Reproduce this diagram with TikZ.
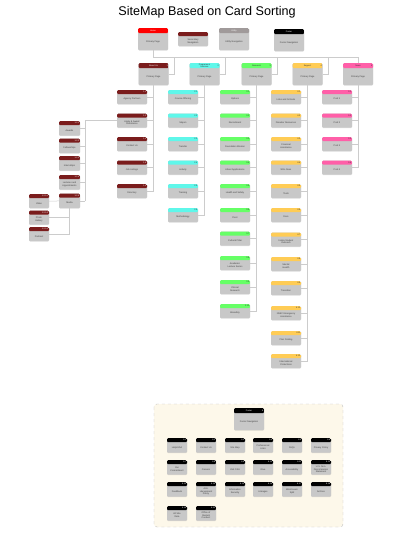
\documentclass[tikz,border=0pt]{standalone}
\usepackage{fontspec}
\setmainfont{Liberation Sans}
\usetikzlibrary{shadows,calc}
\definecolor{cardgray}{HTML}{C8C8C8}
\definecolor{linkgray}{HTML}{CCCCCC}
\definecolor{homec}{HTML}{FF0000}\colorlet{homecT}{white}
\definecolor{aboutc}{HTML}{7A1C1C}\colorlet{aboutcT}{white}
\definecolor{progc}{HTML}{5FF7EA}\colorlet{progcT}{black!80}
\definecolor{resc}{HTML}{66FF66}\colorlet{rescT}{black!80}
\definecolor{supc}{HTML}{FFCC55}\colorlet{supcT}{black!80}
\definecolor{newsc}{HTML}{FF5FA8}\colorlet{newscT}{black!80}
\definecolor{utilc}{HTML}{A09A9A}\colorlet{utilcT}{white}
\definecolor{footc}{HTML}{000000}\colorlet{footcT}{white}
\definecolor{cream}{HTML}{FDF8EA}
\tikzset{
  card/.style={rounded corners=1.2pt, fill=cardgray, inner sep=0pt, anchor=north,
    drop shadow={shadow xshift=0.2pt, shadow yshift=-0.5pt, opacity=0.25}},
  link/.style={draw=linkgray, line width=0.5pt},
  bodytxt/.style={font=\fontsize{2.3}{2.7}\selectfont, text=black!75, align=center, inner sep=0pt},
  hdrtxt/.style={font=\fontsize{2.1}{2.4}\selectfont, inner sep=0pt, align=center},
}
\def\hh{4pt}
% name, x, top y, width, height, header colour, header text, number, body text
\newcommand\card[9]{%
  \node[card, minimum width=#4pt, minimum height=#5pt,
    path picture={\fill[#6] (path picture bounding box.north west) rectangle ([yshift=-\hh]path picture bounding box.north east);}]
    (#1) at (#2,#3) {};
  \node[hdrtxt, text=#6T] at ([yshift=-0.5*\hh]#1.north) {#7};
  \node[hdrtxt, text=#6T, anchor=east] at ([xshift=-0.8pt,yshift=-0.5*\hh]#1.north east) {#8};
  \node[bodytxt] at ([yshift=-0.5*\hh]#1.center) {#9};
}
\begin{document}
\begin{tikzpicture}[x=1pt,y=-1pt]
\useasboundingbox (0,0) rectangle (414,554);
\node[font=\fontsize{12.6}{14}\selectfont] (title) at (207,12) {SiteMap Based on Card Sorting};

% footer container
\draw[dashed, draw=black!25, fill=cream, rounded corners=3pt, line width=0.4pt] (154,404) rectangle (343,527);

% connectors (drawn first, below the cards)
\coordinate (busy) at (0,57);

% top row
\def\hh{5pt}
\card{home}{153}{28}{30}{22}{homec}{Home}{}{Primary Page}
\card{utility}{234}{28}{30}{22}{utilc}{Utility}{}{Utility Navigation}
\card{footer}{289}{29}{30}{22}{footc}{Footer}{}{Footer Navigation}
\def\hh{4pt}
\card{second}{193}{32}{30}{14}{aboutc}{}{}{Secondary\\Navigation}

% level 2
\def\hh{5pt}
\card{about}{153.5}{63}{30}{22}{aboutc}{About Us}{1}{Primary Page}
\card{prog}{204.5}{63}{30}{22}{progc}{Programs \&\\Services}{2}{Primary Page}
\card{res}{256.5}{63}{30}{22}{resc}{Research}{3}{Primary Page}
\card{sup}{307.5}{63}{30}{22}{supc}{Support}{4}{Primary Page}
\card{news}{358}{63}{30}{22}{newsc}{News}{5}{Primary Page}
\def\hh{4pt}

% about children
\card{a1}{132}{90}{30}{14}{aboutc}{}{1.1}{Agency Partners}
\card{a2}{132}{113.5}{30}{14}{aboutc}{}{1.2}{Apply \& Award\\Assistance}
\card{a3}{132}{137}{30}{14}{aboutc}{}{1.3}{Contact Us}
\card{a4}{132}{160.5}{30}{14}{aboutc}{}{1.4}{Job Listings}
\card{a5}{132}{184}{30}{14}{aboutc}{}{1.5}{Directory}

% 1.2 children
\card{l1}{69.5}{121}{21}{14.5}{aboutc}{}{1.2.1}{Awards}
\card{l2}{69.5}{138.5}{21}{14.5}{aboutc}{}{1.2.2}{Fellowships}
\card{l3}{69.5}{156}{21}{14.5}{aboutc}{}{1.2.3}{Internships}
\card{l4}{69.5}{175}{21}{14.5}{aboutc}{}{1.2.4}{Lectures and\\Appointments}
\card{l5}{69.5}{193.5}{21}{14.5}{aboutc}{}{1.2.5}{Media}

% media children
\card{m1}{39}{194}{20}{14}{aboutc}{}{1.2.5.1}{Video}
\card{m2}{39}{210.5}{20}{14}{aboutc}{}{1.2.5.2}{Photo\\Gallery}
\card{m3}{39}{227}{20}{14}{aboutc}{}{1.2.5.3}{Podcast}

% program children
\card{p1}{183}{90}{30}{14}{progc}{}{2.1}{Course Offering}
\card{p2}{183}{113.5}{30}{14}{progc}{}{2.2}{Majors}
\card{p3}{183}{137}{30}{14}{progc}{}{2.3}{Transfer}
\card{p4}{183}{160.5}{30}{14}{progc}{}{2.4}{Activity}
\card{p5}{183}{184}{30}{14}{progc}{}{2.5}{Training}
\card{p6}{183}{208}{30}{14}{progc}{}{2.6}{Methodology}

% research children
\card{r1}{235}{90}{30}{14}{resc}{}{3.1}{Options}
\card{r2}{235}{113.5}{30}{14}{resc}{}{3.2}{Recruitment}
\card{r3}{235}{137}{30}{14}{resc}{}{3.3}{Foundation Mission}
\card{r4}{235}{160.5}{30}{14}{resc}{}{3.4}{About Applications}
\card{r5}{235}{184}{30}{14}{resc}{}{3.5}{Health and Safety}
\card{r6}{235}{208}{30}{14}{resc}{}{3.6}{Pivot}
\card{r7}{235}{231.5}{30}{14}{resc}{}{3.7}{Cultural Pillar}
\card{r8}{235}{256}{30}{14}{resc}{}{3.8}{Academic\\Lecture Series}
\card{r9}{235}{280}{30}{14}{resc}{}{3.9}{Clinical\\Research}
\card{r10}{235}{304}{30}{14}{resc}{}{3.10}{Biosafety}

% support children
\card{s1}{286}{90}{30}{14}{supc}{}{4.1}{Links and Schools}
\card{s2}{286}{113.5}{30}{14}{supc}{}{4.2}{Disaster Resources}
\card{s3}{286}{137}{30}{14}{supc}{}{4.3}{Financial\\Assistance}
\card{s4}{286}{160.5}{30}{14}{supc}{}{4.4}{Who Does}
\card{s5}{286}{184}{30}{14}{supc}{}{4.5}{Tools}
\card{s6}{286}{208}{30}{14}{supc}{}{4.6}{Docs}
\card{s7}{286}{232.5}{30}{14}{supc}{}{4.7}{Inside Student\\Outreach}
\card{s8}{286}{257}{30}{14}{supc}{}{4.8}{Mental\\Health}
\card{s9}{286}{281}{30}{14}{supc}{}{4.9}{Transition}
\card{s10}{286}{306}{30}{14}{supc}{}{4.10}{NSEF Emergency\\Assistance}
\card{s11}{286}{331}{30}{14}{supc}{}{4.11}{Plan Finding}
\card{s12}{286}{354}{30}{14}{supc}{}{4.12}{International\\Protections}

% news children
\card{n1}{337}{90}{30}{14}{newsc}{}{5.1}{Post 1}
\card{n2}{337}{113.5}{30}{14}{newsc}{}{5.2}{Post 2}
\card{n3}{337}{137}{30}{14}{newsc}{}{5.3}{Post 3}
\card{n4}{337}{160.5}{30}{14}{newsc}{}{5.4}{Post 4}

% footer section
\def\hh{5pt}
\card{foot}{249}{408}{30}{22}{footc}{Footer}{6}{Footer Navigation}
\def\hh{4pt}
\card{f1}{177}{438}{20}{14.5}{footc}{}{6.1}{Help/ADA}
\card{f2}{206}{438}{20}{14.5}{footc}{}{6.2}{Contact Us}
\card{f3}{235}{438}{20}{14.5}{footc}{}{6.3}{Site Map}
\card{f4}{263}{438}{20}{14.5}{footc}{}{6.4}{Professional\\Links}
\card{f5}{292}{438}{20}{14.5}{footc}{}{6.5}{FAQs}
\card{f6}{321}{438}{20}{14.5}{footc}{}{6.6}{Privacy Policy}
\card{f7}{177}{460}{20}{14.5}{footc}{}{6.7}{Our\\Commitment}
\card{f8}{206}{460}{20}{14.5}{footc}{}{6.8}{Careers}
\card{f9}{235}{460}{20}{14.5}{footc}{}{6.9}{Visit OSU}
\card{f10}{263}{460}{20}{14.5}{footc}{}{6.10}{Give}
\card{f11}{292}{460}{20}{14.5}{footc}{}{6.11}{Accessibility}
\card{f12}{321}{460}{20}{14.5}{footc}{}{6.12}{U.S. Non-\\Discrimination\\Statement}
\card{f13}{177}{482}{20}{14.5}{footc}{}{6.13}{Feedback}
\card{f14}{206}{482}{20}{14.5}{footc}{}{6.14}{Anti-\\Harassment\\Policy}
\card{f15}{235}{482}{20}{14.5}{footc}{}{6.15}{Information\\Security}
\card{f16}{263}{482}{20}{14.5}{footc}{}{6.16}{Linkages}
\card{f17}{292}{482}{20}{14.5}{footc}{}{6.17}{Work/Learn\\Split}
\card{f18}{321}{482}{20}{14.5}{footc}{}{6.18}{Archive}
\card{f19}{177}{506}{20}{14.5}{footc}{}{6.19}{All Site\\Data}
\card{f20}{206}{506}{20}{14.5}{footc}{}{6.20}{Office of\\Student\\Conduct}

% connectors
\draw[link] (home.south) -- (home.south |- busy) -| (news.north);
\foreach \n in {about,prog,res,sup}{
  \draw[link] (\n.east) -- ([xshift=6pt]\n.east) -- ([xshift=6pt]\n.east |- busy);
}
\foreach \c in {a1,a2,a3,a4,a5}{\draw[link] (about.south) |- (\c.east);}
\foreach \c in {p1,p2,p3,p4,p5,p6}{\draw[link] (prog.south) |- (\c.east);}
\foreach \c in {r1,r2,r3,r4,r5,r6,r7,r8,r9,r10}{\draw[link] (res.south) |- (\c.east);}
\foreach \c in {s1,s2,s3,s4,s5,s6,s7,s8,s9,s10,s11,s12}{\draw[link] (sup.south) |- (\c.east);}
\foreach \c in {n1,n2,n3,n4}{\draw[link] (news.south) |- (\c.east);}
\draw[link] (a2.west) -| ([xshift=5pt]l5.east);
\foreach \c in {l1,l2,l3,l4,l5}{\draw[link] (\c.east) -- ([xshift=5pt]\c.east);}
\draw[link] (l5.west) -- (m1.east);
\draw[link] (l5.south) |- (m2.east);
\draw[link] (l5.south) |- (m3.east);
\end{tikzpicture}
\end{document}
